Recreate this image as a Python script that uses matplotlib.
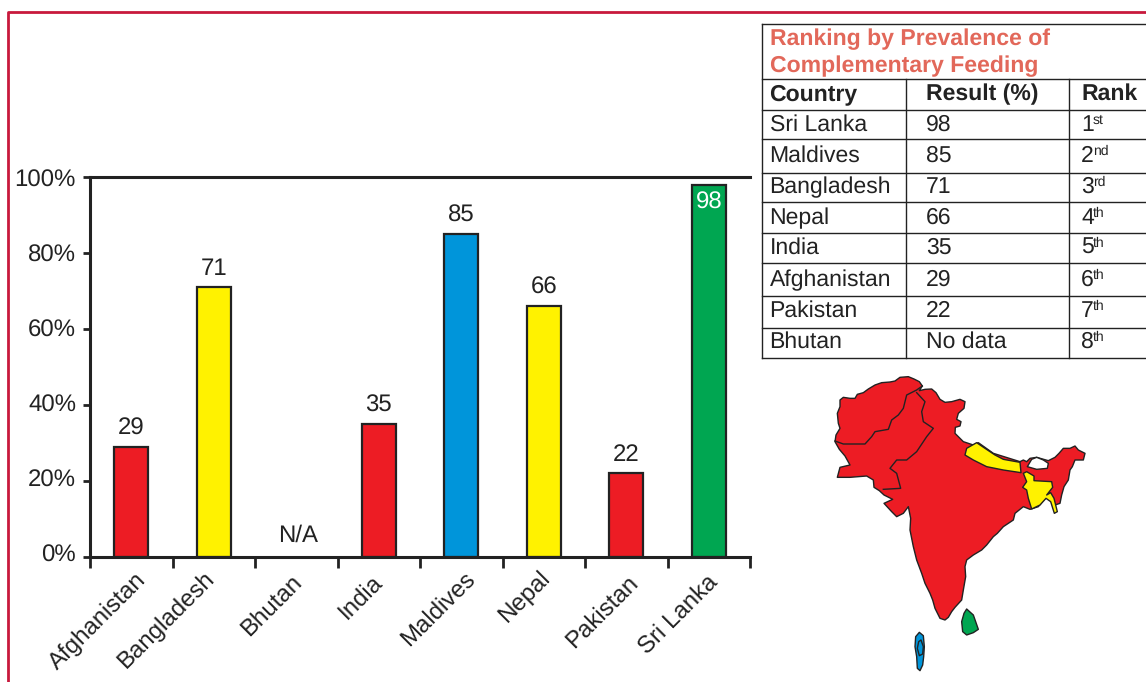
import matplotlib
matplotlib.use('Agg')
import matplotlib.pyplot as plt

plt.rcParams['font.family'] = ['Liberation Sans', 'DejaVu Sans']
plt.rcParams['text.hinting'] = 'no_hinting'
plt.rcParams['text.hinting_factor'] = 1

W = 1146
H = 682

countries = ['Afghanistan', 'Bangladesh', 'Bhutan', 'India', 'Maldives', 'Nepal', 'Pakistan', 'Sri Lanka']
values = [29, 71, 0, 35, 85, 66, 22, 98]
value_labels = ['29', '71', 'N/A', '35', '85', '66', '22', '98']
bar_colors = ['#ed1c24', '#fff200', 'none', '#ed1c24', '#0095da', '#fff200', '#ed1c24', '#00a651']
y_ticks = [0, 20, 40, 60, 80, 100]

# the labels in the original do not sit evenly against their ticks (pixels)
y_label_shift = [1, 0, -1, -2, -3, -3.5]
x_label_dx = [4, -11, -6, -8, 2, -5, 0, -3]
x_label_dy = [-12, -11, -14, -14, -11, -10, -14, -14]

table_title = ['Ranking by Prevalence of', 'Complementary Feeding']
table_head = ['Country', 'Result (%)', 'Rank']
rank_country = ['Sri Lanka', 'Maldives', 'Bangladesh', 'Nepal', 'India', 'Afghanistan', 'Pakistan', 'Bhutan']
rank_result = ['98', '85', '71', '66', '35', '29', '22', 'No data']
rank_num = ['1', '2', '3', '4', '5', '6', '7', '8']
rank_sup = ['st', 'nd', 'rd', 'th', 'th', 'th', 'th', 'th']
row_lines = [24, 79, 110, 139, 173, 202, 233, 263, 296, 328, 358]
row_base = [131, 162, 193, 224, 254, 286, 317, 348]

# map outlines, traced by hand
region_main = [(240,90),(250,82),(270,85),(285,85),(292,73),(310,68),(325,57),(345,45),(365,38),(390,36),(405,33),
    (420,22),(445,20),(462,27),(478,35),(487,48),(478,62),(495,58),(515,57),(528,68),(540,88),(555,97),(575,95),
    (600,88),(615,95),(612,115),(595,130),(590,148),(603,155),(600,168),(586,172),(585,190),(610,215),(640,225),
    (655,218),(700,250),(780,275),(790,270),(800,275),(810,265),(830,262),(865,272),(885,262),(897,250),(910,235),
    (930,235),(945,228),(955,240),(975,250),(970,270),(945,270),(937,290),(930,300),(925,330),(912,350),(905,375),
    (900,400),(885,405),(870,370),(855,385),(835,410),(810,418),(790,410),(765,430),(760,450),(730,470),(712,490),
    (700,500),(680,525),(665,540),(640,555),(620,570),(615,590),(617,620),(610,660),(605,690),(585,712),(575,725),
    (565,742),(555,750),(540,745),(525,715),(518,690),(510,670),(495,640),(485,610),(470,570),(460,530),(450,480),
    (452,445),(445,410),(430,430),(410,440),(395,425),(372,400),(398,388),(372,375),(358,362),(342,352),(340,330),
    (320,318),(270,322),(232,322),(240,292),(270,285),(255,258),(238,238),(225,215),(228,195),(240,175),(235,160),
    (232,130),(240,110)]
border_afg = [(225,213),(250,222),(315,222),(335,200),(345,185),(385,178),(395,150),(415,135),(430,115),
    (440,75),(470,60),(487,48)]
border_pak = [(470,68),(495,95),(485,125),(490,155),(520,175),(500,200),(470,245),(440,270),(410,270),
    (390,295),(410,310),(422,355),(370,358)]
region_nepal = [(620,235),(650,218),(675,235),(705,255),(730,268),(780,277),(783,308),(730,300),(680,290),
    (640,270),(615,255)]
region_bhutan = [(802,290),(815,268),(830,262),(850,270),(865,280),(862,295),(830,298)]
region_bangla = [(790,310),(800,305),(822,318),(822,332),(875,335),(878,352),(860,375),(872,368),(882,385),
    (892,425),(883,430),(872,395),(858,385),(840,405),(815,417),(805,385),(800,360),(788,352),(800,335)]
region_lanka = [(620,717),(640,735),(655,778),(640,788),(620,795),(608,785),(605,755),(612,730)]
region_maldives = [(478,787),(490,797),(493,830),(491,860),(488,885),(480,902),(472,895),(470,860),(465,830),(467,800)]
maldives_inner = [(483,810),(490,830),(488,852),(478,857),(472,835),(476,815)]

fig = plt.figure(figsize=(W/100, H/100), dpi=100)

# overlay in pixel coordinates, for frame and table
bg = fig.add_axes([0, 0, 1, 1])
bg.set_xlim(0, W)
bg.set_ylim(H, 0)
bg.axis('off')
bg.plot([8, 8, W], [H, 12, 12], color='#c8193c', lw=2)

for yy in row_lines:
    bg.plot([762, W], [yy, yy], color='#222222', lw=1)
bg.plot([762, 762], [24, 358], color='#222222', lw=1)
bg.plot([906, 906], [79, 358], color='#222222', lw=1)
bg.plot([1069, 1069], [79, 358], color='#222222', lw=1)

bg.text(769.5, 45, table_title[0], color='#e2685a', fontsize=16.7, fontweight='bold', va='baseline')
bg.text(769.5, 72, table_title[1], color='#e2685a', fontsize=16.7, fontweight='bold', va='baseline')
for xx, s in zip([769.5, 926, 1081], table_head):
    bg.text(xx, 100, s, color='#222222', fontsize=16.7, fontweight='bold', va='baseline')
for i in range(len(rank_country)):
    yy = row_base[i]
    bg.text(769.5, yy, rank_country[i], color='#222222', fontsize=16.7, va='baseline')
    bg.text(926, yy, rank_result[i], color='#222222', fontsize=16.7, va='baseline')
    bg.text(1081, yy, rank_num[i], color='#222222', fontsize=16.7, va='baseline')
    bg.text(1093, yy - 7, rank_sup[i], color='#222222', fontsize=10, va='baseline')

# bar chart
ax = fig.add_axes([90/W, 1 - 557/H, 660/W, 380/H])
pos = list(range(len(countries)))
ax.bar(pos, values, width=0.41, color=bar_colors,
       edgecolor=['none' if c == 'none' else '#222222' for c in bar_colors], linewidth=1.6)
ax.set_xlim(-0.5, 7.5)
ax.set_ylim(0, 100)
ax.spines['right'].set_visible(False)
for s in ['left', 'top', 'bottom']:
    ax.spines[s].set_linewidth(2.2)
    ax.spines[s].set_color('#222222')
ax.set_yticks(y_ticks)
ax.set_yticklabels([])
ax.set_xticks([p - 0.5 for p in pos] + [7.5])
ax.set_xticklabels([])
ax.tick_params(axis='y', length=5, width=2, color='#222222')
ax.tick_params(axis='x', length=8, width=2, color='#222222')

for v, dy in zip(y_ticks, y_label_shift):
    ax.annotate(str(v) + '%', xy=(-0.5, v), xytext=(-14, dy), textcoords='offset pixels',
                ha='right', va='center', fontsize=17, color='#222222')

for p, v, s, name, dx, dy in zip(pos, values, value_labels, countries, x_label_dx, x_label_dy):
    if name == 'Sri Lanka':
        ax.text(p, v - 4.8, s, ha='center', va='center', fontsize=17, color='white')
    elif s == 'N/A':
        ax.text(p + 0.02, v + 5.6, s, ha='center', va='center', fontsize=17, color='#222222')
    else:
        ax.text(p, v + 4.8, s, ha='center', va='center', fontsize=17, color='#222222')
    ax.annotate(name, xy=(p, 0), xytext=(dx, dy), textcoords='offset pixels', rotation=45,
                ha='right', va='top', rotation_mode='anchor', fontsize=17, color='#222222')

# map
m = fig.add_axes([760/W, 1 - 680/H, 340/W, 310/H])
m.set_xlim(0, 1020)
m.set_ylim(930, 0)
m.axis('off')
for pts, c in [(region_main, '#ed1c24'), (region_nepal, '#fff200'), (region_bhutan, 'white'),
               (region_bangla, '#fff200'), (region_lanka, '#00a651'), (region_maldives, '#0095da'),
               (maldives_inner, '#0095da')]:
    m.fill([p[0] for p in pts], [p[1] for p in pts], facecolor=c, edgecolor='#222222', lw=1, joinstyle='round')
for pts in [border_afg, border_pak]:
    m.plot([p[0] for p in pts], [p[1] for p in pts], color='#222222', lw=1)

fig.savefig('out.png', dpi=100)
